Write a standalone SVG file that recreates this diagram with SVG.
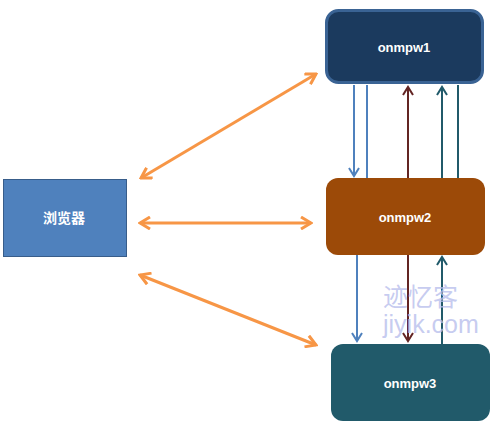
<svg xmlns="http://www.w3.org/2000/svg" width="496" height="430" viewBox="0 0 496 430">
<defs>
<style>
.lbl{font-family:"Liberation Sans","Noto Sans CJK SC",sans-serif;font-weight:bold;font-size:13px;fill:#ffffff;text-anchor:middle;dominant-baseline:central}
.c{fill:none;stroke-width:2}
.o{stroke:#F79646;stroke-width:3;fill:none}
.wm{font-family:"Liberation Sans","Noto Sans CJK SC",sans-serif;font-size:25px;fill:#B8BEEC;fill-opacity:0.8}
</style>
<marker id="ab" viewBox="0 0 12 12" refX="10" refY="6" markerWidth="12" markerHeight="12" markerUnits="userSpaceOnUse" orient="auto-start-reverse"><path d="M2,1 L10,6 L2,11" fill="none" stroke="#4F81BD" stroke-width="2"/></marker>
<marker id="ar" viewBox="0 0 12 12" refX="10" refY="6" markerWidth="12" markerHeight="12" markerUnits="userSpaceOnUse" orient="auto-start-reverse"><path d="M2,1 L10,6 L2,11" fill="none" stroke="#632523" stroke-width="2"/></marker>
<marker id="at" viewBox="0 0 12 12" refX="10" refY="6" markerWidth="12" markerHeight="12" markerUnits="userSpaceOnUse" orient="auto-start-reverse"><path d="M2,1 L10,6 L2,11" fill="none" stroke="#215A6A" stroke-width="2"/></marker>
<marker id="ao" viewBox="0 0 14 14" refX="12" refY="7" markerWidth="14" markerHeight="14" markerUnits="userSpaceOnUse" orient="auto-start-reverse"><path d="M2,1 L12,7 L2,13" fill="none" stroke="#F79646" stroke-width="3"/></marker>
</defs>
<g id="connectors">
<line class="c" x1="354" y1="85" x2="354" y2="176" stroke="#4F81BD" marker-end="url(#ab)"/>
<line class="c" x1="367" y1="85" x2="367" y2="178" stroke="#4F81BD"/>
<line class="c" x1="408" y1="178" x2="408" y2="87" stroke="#632523" marker-end="url(#ar)"/>
<line class="c" x1="442" y1="178" x2="442" y2="87" stroke="#215A6A" marker-end="url(#at)"/>
<line class="c" x1="458" y1="85" x2="458" y2="178" stroke="#215A6A"/>
<line class="c" x1="357" y1="255" x2="357" y2="341" stroke="#4F81BD" marker-end="url(#ab)"/>
<line class="c" x1="408" y1="255" x2="408" y2="341" stroke="#632523" marker-end="url(#ar)"/>
<line class="c" x1="442" y1="344" x2="442" y2="257" stroke="#215A6A" marker-end="url(#at)"/>
<line class="o" x1="141" y1="178" x2="316" y2="74" marker-start="url(#ao)" marker-end="url(#ao)"/>
<line class="o" x1="140" y1="223" x2="311" y2="223" marker-start="url(#ao)" marker-end="url(#ao)"/>
<line class="o" x1="140" y1="275" x2="316" y2="345" marker-start="url(#ao)" marker-end="url(#ao)"/>
</g>
<g id="browser">
<rect x="3.5" y="179.5" width="123" height="77" fill="#4F81BD" stroke="#385D8A" stroke-width="1"/>
<text class="lbl" x="64" y="218" style="font-size:14px">浏览器</text>
</g>
<g id="onmpw1">
<rect x="326.5" y="10.5" width="156" height="72" rx="12" fill="#1B3A5E" stroke="#3A6394" stroke-width="3"/>
<text class="lbl" x="404" y="47">onmpw1</text>
</g>
<g id="onmpw2">
<rect x="326" y="178" width="159" height="77" rx="12" fill="#9C4A08"/>
<text class="lbl" x="405" y="217">onmpw2</text>
</g>
<g id="onmpw3">
<rect x="331" y="344" width="159" height="77" rx="12" fill="#215A6A"/>
<text class="lbl" x="410" y="383">onmpw3</text>
</g>
<g id="watermark">
<text class="wm" x="383" y="306">迹忆客</text>
<text class="wm" x="383" y="333">jiyik.com</text>
</g>
</svg>
